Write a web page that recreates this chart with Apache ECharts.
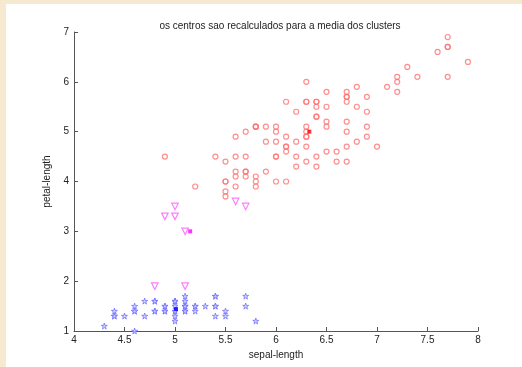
<!DOCTYPE html>
<html>
<head>
<meta charset="utf-8">
<script src="https://cdn.jsdelivr.net/npm/echarts@6/dist/echarts.min.js"></script>
<style>
  html, body { margin: 0; padding: 0; background: #fff; overflow: hidden; width: 522px; height: 367px; }
  .edge { position: absolute; background: #f6e9cf; }
  #chart { position: absolute; left: 0; top: 0; width: 522px; height: 367px; }
</style>
</head>
<body>
<div class="edge" style="left:0;top:0;width:522px;height:4px"></div>
<div class="edge" style="left:0;top:0;width:6px;height:367px"></div>
<div id="chart"></div>
<script>
// sepal-length / petal-length per cluster
const clusterRed = [
  [7.0,4.7],[6.4,4.5],[6.9,4.9],[5.5,4.0],[6.5,4.6],[5.7,4.5],[6.3,4.7],[5.2,3.9],
  [5.9,4.2],[6.0,4.0],[6.1,4.7],[6.7,4.4],[5.6,4.5],[5.8,4.1],[6.2,4.5],[5.6,3.9],
  [5.9,4.8],[6.1,4.0],[6.3,4.9],[6.1,4.7],[6.4,4.3],[6.6,4.4],[6.8,4.8],[6.7,5.0],
  [6.0,4.5],[5.5,3.8],[5.5,3.7],[5.8,3.9],[6.0,5.1],[5.4,4.5],[6.0,4.5],[6.7,4.7],
  [6.3,4.4],[5.6,4.1],[5.5,4.0],[5.5,4.4],[6.1,4.6],[5.8,4.0],[5.6,4.2],[5.7,4.2],
  [5.7,4.2],[6.2,4.3],[5.7,4.1],[6.6,4.6],
  [6.3,6.0],[5.8,5.1],[7.1,5.9],[6.3,5.6],[6.5,5.8],[7.6,6.6],[4.9,4.5],[7.3,6.3],
  [6.7,5.8],[7.2,6.1],[6.5,5.1],[6.4,5.3],[6.8,5.5],[5.7,5.0],[5.8,5.1],[6.4,5.3],
  [6.5,5.5],[7.7,6.7],[7.7,6.9],[6.0,5.0],[6.9,5.7],[5.6,4.9],[7.7,6.7],[6.3,4.9],
  [6.7,5.7],[7.2,6.0],[6.2,4.8],[6.1,4.9],[6.4,5.6],[7.2,5.8],[7.4,6.1],[7.9,6.4],
  [6.4,5.6],[6.3,5.1],[6.1,5.6],[7.7,6.1],[6.3,5.6],[6.4,5.5],[6.0,4.8],[6.9,5.4],
  [6.7,5.6],[6.9,5.1],[5.8,5.1],[6.8,5.9],[6.7,5.7],[6.7,5.2],[6.3,5.0],[6.5,5.2],
  [6.2,5.4],[5.9,5.1]
];
const clusterMagenta = [
  [4.8,1.9],[5.1,1.9],[4.9,3.3],[5.0,3.5],[5.6,3.6],[5.7,3.5],[5.0,3.3],[5.1,3.0]
];
const clusterBlue = [
  [5.1,1.4],[4.9,1.4],[4.7,1.3],[4.6,1.5],[5.0,1.4],[5.4,1.7],[4.6,1.4],[5.0,1.5],
  [4.4,1.4],[4.9,1.5],[5.4,1.5],[4.8,1.6],[4.8,1.4],[4.3,1.1],[5.8,1.2],[5.7,1.5],
  [5.4,1.3],[5.1,1.4],[5.7,1.7],[5.1,1.5],[5.4,1.7],[5.1,1.5],[4.6,1.0],[5.1,1.7],
  [5.0,1.6],[5.0,1.6],[5.2,1.5],[5.2,1.4],[4.7,1.6],[4.8,1.6],[5.4,1.5],[5.2,1.5],
  [5.5,1.4],[4.9,1.5],[5.0,1.2],[5.5,1.3],[4.9,1.4],[4.4,1.3],[5.1,1.5],[5.0,1.3],
  [4.5,1.3],[4.4,1.3],[5.0,1.6],[4.8,1.4],[5.1,1.6],[4.6,1.4],[5.3,1.5],[5.0,1.4]
];
const centers = [
  { value: [6.33, 5.0], color: "#ff0000" },
  { value: [5.15, 3.0], color: "#ff00ff" },
  { value: [5.01, 1.44], color: "#0000ff" }
];
const xTicks = [4, 4.5, 5, 5.5, 6, 6.5, 7, 7.5, 8];
const yTicks = [1, 2, 3, 4, 5, 6, 7];

const starPath = "path://M50,0 L61,35 L98,35 L68,57 L79,91 L50,70 L21,91 L32,57 L2,35 L39,35 Z";

const chart = echarts.init(document.getElementById("chart"));
const font = "Liberation Sans, Arial, sans-serif";
const axisCommon = {
  axisLine: { show: true, lineStyle: { color: "#555", width: 1 } },
  axisTick: { show: true, inside: true, length: 4, lineStyle: { color: "#555" } },
  splitLine: { show: false },
  axisLabel: { color: "#222", fontSize: 10, fontFamily: font },
  nameTextStyle: { color: "#222", fontSize: 10, fontFamily: font },
  nameLocation: "middle"
};

chart.setOption({
  backgroundColor: "transparent",
  animation: false,
  title: {
    text: "os centros sao recalculados para a media dos clusters",
    left: 275, textAlign: "center", top: 16,
    textStyle: { color: "#222", fontSize: 10, fontWeight: "normal", fontFamily: font }
  },
  grid: { left: 74, right: 44, top: 32, bottom: 36 },
  xAxis: Object.assign({}, axisCommon, {
    type: "value", min: xTicks[0], max: xTicks[xTicks.length - 1], interval: 0.5,
    name: "sepal-length", nameGap: 13,
    axisLabel: Object.assign({}, axisCommon.axisLabel, { margin: 4, formatter: v => String(v) })
  }),
  yAxis: Object.assign({}, axisCommon, {
    type: "value", min: yTicks[0], max: yTicks[yTicks.length - 1], interval: 1,
    name: "petal-length", nameGap: 11,
    axisLabel: Object.assign({}, axisCommon.axisLabel, { margin: 5 })
  }),
  series: [
    {
      type: "scatter", data: clusterRed, symbol: "circle", symbolSize: 5,
      itemStyle: { color: "rgba(255,255,255,0)", borderColor: "#ff7272", borderWidth: 1.2 }
    },
    {
      type: "scatter", data: clusterMagenta, symbol: "triangle", symbolRotate: 180, symbolSize: 6.5,
      itemStyle: { color: "rgba(255,255,255,0)", borderColor: "#ff5cff", borderWidth: 1.2 }
    },
    {
      type: "scatter", data: clusterBlue, symbol: starPath, symbolSize: 6,
      itemStyle: { color: "#c8c8ff", borderColor: "#7474ff", borderWidth: 1 }
    },
    {
      type: "scatter", symbol: "rect", symbolSize: 4,
      data: centers.map(c => ({ value: c.value, itemStyle: { color: c.color } }))
    }
  ]
});
</script>
</body>
</html>
